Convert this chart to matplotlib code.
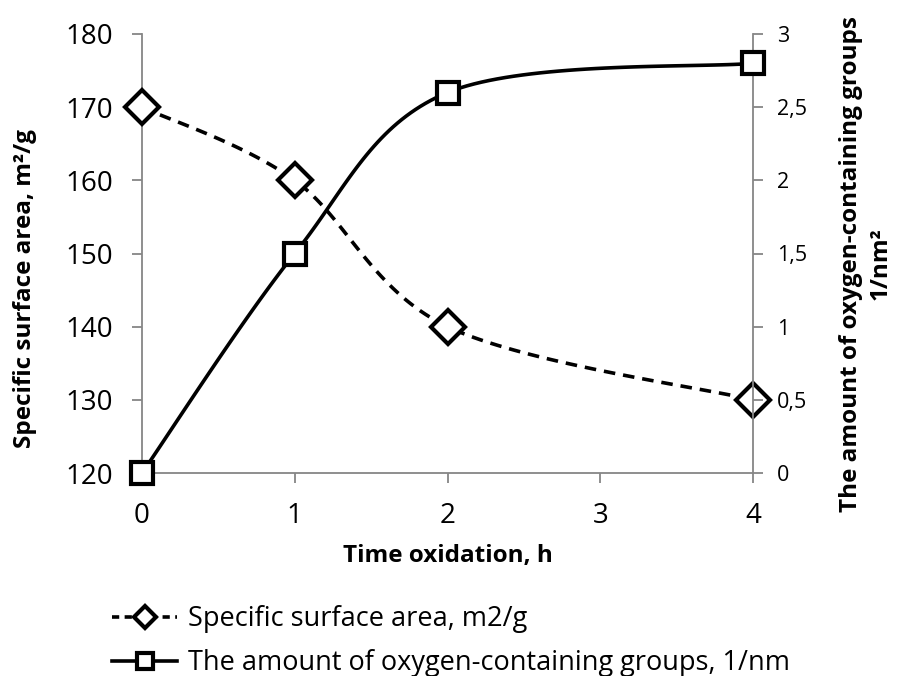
import numpy as np
import matplotlib
matplotlib.use('Agg')
import matplotlib.pyplot as plt
from matplotlib.ticker import FuncFormatter

plt.rcParams['font.family'] = ['Open Sans', 'DejaVu Sans']

# data
time_h = [0, 1, 2, 4]
surface_area = [170, 160, 140, 130]          # m2/g, left axis
oxygen_groups = [0, 1.5, 2.6, 2.8]           # 1/nm2, right axis
x_ticks = [0, 1, 2, 3, 4]
left_ticks = [120, 130, 140, 150, 160, 170, 180]
right_ticks = [0, 0.5, 1, 1.5, 2, 2.5, 3]

AX_W, AX_H = 611.0, 439.0  # plot area in pixels, used for smoothing


def smooth(x, y, xlim, ylim, n=40):
    """Excel-like smoothed line: cubic bezier with catmull-rom control points (1/6)."""
    px = (np.asarray(x, float) - xlim[0]) / (xlim[1] - xlim[0]) * AX_W
    py = (np.asarray(y, float) - ylim[0]) / (ylim[1] - ylim[0]) * AX_H
    P = np.column_stack([px, py])
    P = np.vstack([P[0], P, P[-1]])
    out = []
    for i in range(1, len(P) - 2):
        p0, p3 = P[i], P[i + 1]
        c1 = p0 + (P[i + 1] - P[i - 1]) / 6
        c2 = p3 - (P[i + 2] - P[i]) / 6
        t = np.linspace(0, 1, n)[:, None]
        seg = (1 - t) ** 3 * p0 + 3 * (1 - t) ** 2 * t * c1 + 3 * (1 - t) * t ** 2 * c2 + t ** 3 * p3
        out.append(seg if i == 1 else seg[1:])
    out = np.vstack(out)
    sx = out[:, 0] / AX_W * (xlim[1] - xlim[0]) + xlim[0]
    sy = out[:, 1] / AX_H * (ylim[1] - ylim[0]) + ylim[0]
    return sx, sy


fig = plt.figure(figsize=(8.98, 6.76), dpi=100)
ax = fig.add_axes([142 / 898, 1 - 473 / 676, 611 / 898, 439 / 676])
ax2 = ax.twinx()

xlim = (0, 4)
ylim_l = (120, 180)
ylim_r = (0, 3)

grey = '#868686'
lw = 2.6

sx, sy = smooth(time_h, surface_area, xlim, ylim_l)
ax.plot(sx, sy, color='black', lw=lw, ls=(0, (3.2, 2.2)), zorder=2)
ax.plot(time_h, surface_area, ls='none', marker='D', ms=17, mfc='white',
        mec='black', mew=3, zorder=3, clip_on=False)

sx2, sy2 = smooth(time_h, oxygen_groups, xlim, ylim_r)
ax2.plot(sx2, sy2, color='black', lw=lw, zorder=2)
ax2.plot(time_h, oxygen_groups, ls='none', marker='s', ms=16, mfc='white',
         mec='black', mew=3, zorder=3, clip_on=False)

ax.set_xlim(*xlim)
ax.set_ylim(*ylim_l)
ax2.set_ylim(*ylim_r)

ax.set_xticks(x_ticks)
ax.set_yticks(left_ticks)
ax2.set_yticks(right_ticks)
ax2.yaxis.set_major_formatter(FuncFormatter(lambda v, p: '{:g}'.format(v).replace('.', ',')))

for s in ['top', 'right']:
    ax.spines[s].set_visible(False)
for s in ['top', 'left', 'bottom']:
    ax2.spines[s].set_visible(False)
for sp in [ax.spines['left'], ax.spines['bottom'], ax2.spines['right']]:
    sp.set_color(grey)
    sp.set_linewidth(1.3)

ax.tick_params(axis='x', direction='out', length=7, width=1.3, color=grey,
               labelsize=20, pad=14)
ax.tick_params(axis='y', direction='out', length=7, width=1.3, color=grey,
               labelsize=20, pad=14)
ax2.tick_params(axis='y', direction='out', length=7, width=1.3, color=grey,
                labelsize=15.5, pad=10)

ax.set_xlabel('Time oxidation, h', fontsize=17.5, fontweight='bold', va='center')
ax.xaxis.set_label_coords(0.5, -0.19)
ax.set_ylabel('Specific surface area, m²/g', fontsize=17.5, fontweight='bold',
              va='center')
ax.yaxis.set_label_coords(-0.1915, 0.421)
ax2.set_ylabel('The amount of oxygen-containing groups\n1/nm²', fontsize=17.5,
               fontweight='bold', rotation=90, linespacing=1.3, va='center',
               ha='center')
ax2.yaxis.set_label_coords(1.185, 0.476)

h1 = plt.Line2D([], [], color='black', lw=lw, ls=(0, (2, 1.5)), marker='D', ms=11,
                mfc='white', mec='black', mew=3)
h2 = plt.Line2D([], [], color='black', lw=lw, marker='s', ms=11,
                mfc='white', mec='black', mew=3)
fig.legend([h1, h2], ['Specific surface area, m2/g',
                      'The amount of oxygen-containing groups, 1/nm'],
           loc='upper left', bbox_to_anchor=(112 / 898, 1 - 605 / 676),
           frameon=False, fontsize=19.5, handlelength=2.4, handletextpad=0.4,
           labelspacing=0.6, borderpad=0, borderaxespad=0)

fig.savefig('out.png', dpi=100)
